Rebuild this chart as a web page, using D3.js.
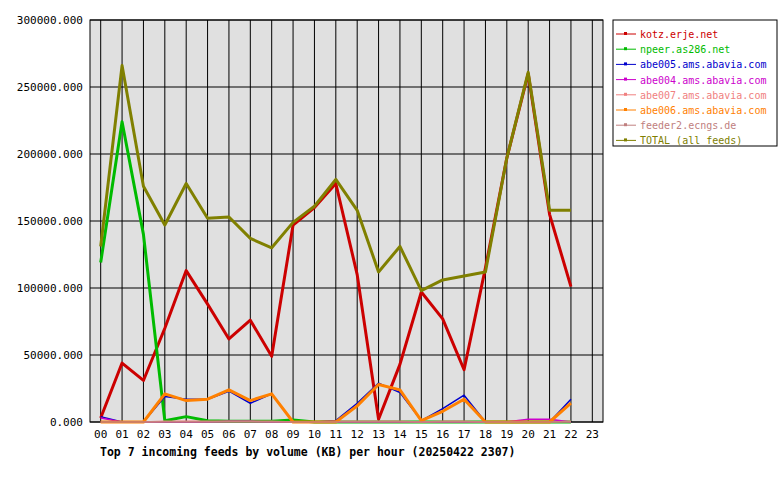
<!DOCTYPE html>
<html><head><meta charset="utf-8">
<script src="https://cdn.jsdelivr.net/npm/d3@7"></script>
<style>body{margin:0;background:#fff}text{font-family:"DejaVu Sans Mono",monospace;font-size:11px}</style>
</head><body><svg id="c" width="780" height="480"></svg>
<script>
var hours = d3.range(24).map(function(d){ return (d<10?"0":"")+d; });
var yTicks = [0,50000,100000,150000,200000,250000,300000];
var names = ["kotz.erje.net","npeer.as286.net","abe005.ams.abavia.com","abe004.ams.abavia.com","abe007.ams.abavia.com","abe006.ams.abavia.com","feeder2.ecngs.de","TOTAL (all feeds)"];
var colors = ["#cc0000","#00bb00","#0000cc","#cc00cc","#f08080","#ff8000","#c08080","#808000"];
var kotz = [3000,44000,31000,70000,113000,88000,62000,76000,49000,147000,160000,178000,110000,2000,43000,97000,77000,39000,115000,197000,260000,155000,101000];
var npeer = [119000,224000,140000,1000,4000,1000,500,500,500,1500,0,0,0,0,0,0,0,0,0,0,0,0,0];
var abe005 = [4000,0,0,19000,17000,17000,23000,14000,21000,0,0,1000,14000,29000,22000,1000,10000,20000,0,0,0,0,17000];
var abe004 = [3000,0,0,0,0,0,500,500,0,0,0,0,0,0,0,0,0,0,0,0,2000,2000,0];
var abe007 = [0,0,0,500,500,500,500,500,500,0,0,500,500,500,500,0,500,500,0,0,0,0,500];
var abe006 = [0,0,0,21000,16000,17000,24000,16000,21000,0,0,0,12000,28000,24000,1000,8000,17000,0,0,0,0,14000];
var feeder2 = [0,0,0,0,0,0,0,0,0,0,0,0,0,0,0,0,0,0,0,0,0,0,0];
var total = [131000,266000,176000,147000,178000,152000,153000,137000,130000,149000,161000,181000,158000,112000,131000,98000,106000,109000,112000,197000,261000,158000,158000];
var series = [kotz,npeer,abe005,abe004,abe007,abe006,feeder2,total];

var svg = d3.select("#c");
var L=90,R=603,T=20,B=422;
var x = d3.scalePoint().domain(hours).range([L,R]).padding(0.5);
var y = d3.scaleLinear().domain([0,300000]).range([B,T]);
svg.append("rect").attr("x",L).attr("y",T).attr("width",R-L).attr("height",B-T).attr("fill","#e0e0e0");
svg.selectAll(".vg").data(hours).enter().append("line").attr("x1",function(d){return x(d);}).attr("x2",function(d){return x(d);})
  .attr("y1",T).attr("y2",B).attr("stroke","#000");
svg.selectAll(".hg").data(yTicks).enter().append("line").attr("x1",L).attr("x2",R)
  .attr("y1",function(d){return y(d);}).attr("y2",function(d){return y(d);}).attr("stroke","#000");
svg.append("rect").attr("x",L).attr("y",T).attr("width",R-L).attr("height",B-T).attr("fill","none").attr("stroke","#000");
svg.selectAll(".yl").data(yTicks).enter().append("text").attr("x",L-7).attr("y",function(d){return y(d)+4;})
  .attr("text-anchor","end").text(function(d){return d+".000";});
svg.selectAll(".xl").data(hours).enter().append("text").attr("x",function(d){return x(d);}).attr("y",B+16)
  .attr("text-anchor","middle").text(function(d){return d;});
svg.append("text").attr("x",100).attr("y",456).style("font-weight","bold").style("font-size","11.5px")
  .text("Top 7 incoming feeds by volume (KB) per hour (20250422 2307)");

var line = d3.line().x(function(d,i){return x(hours[i]);}).y(function(d){return y(d);});
series.forEach(function(s,k){
  svg.append("path").datum(s).attr("d",line).attr("fill","none").attr("stroke",colors[k])
    .attr("stroke-width",k==0||k==1||k==5||k==7?3:1.5).attr("stroke-linejoin","round");
});

svg.append("rect").attr("x",613).attr("y",20).attr("width",164).attr("height",126).attr("fill","#fff").attr("stroke","#000");
names.forEach(function(n,k){
  var yy = 34+k*15.2;
  svg.append("line").attr("x1",616).attr("x2",636).attr("y1",yy).attr("y2",yy).attr("stroke",colors[k]);
  svg.append("rect").attr("x",624).attr("y",yy-2).attr("width",3).attr("height",3).attr("fill",colors[k]);
  svg.append("text").attr("x",640).attr("y",yy+4).attr("fill",colors[k]).style("font-size","10px").text(n);
});
</script></body></html>
